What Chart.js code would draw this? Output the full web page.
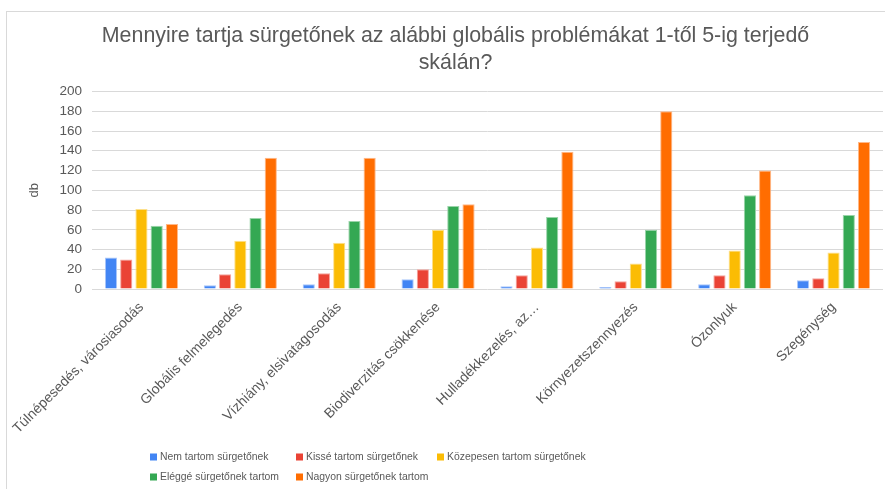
<!DOCTYPE html>
<html>
<head>
<meta charset="utf-8">
<script src="https://cdn.jsdelivr.net/npm/chart.js@4.4.1/dist/chart.umd.min.js"></script>
<style>
  html, body { margin: 0; padding: 0; background: #fff; }
  #wrap { width: 885px; height: 489px; }
</style>
</head>
<body>
<div id="wrap"><canvas id="chart"></canvas></div>
<script>
const TITLE = ['Mennyire tartja sürgetőnek az alábbi globális problémákat 1-től 5-ig terjedő', 'skálán?']
const Y_TITLE = 'db'
const CATEGORIES = [
  'Túlnépesedés, városiasodás',
  'Globális felmelegedés',
  'Vízhiány, elsivatagosodás',
  'Biodiverzitás csökkenése',
  'Hulladékkezelés, az…',
  'Környezetszennyezés',
  'Ózonlyuk',
  'Szegénység',
]
const SERIES = [
  'Nem tartom sürgetőnek',
  'Kissé tartom sürgetőnek',
  'Közepesen tartom sürgetőnek',
  'Eléggé sürgetőnek tartom',
  'Nagyon sürgetőnek tartom',
]
const nemTartom = [32, 4, 5, 10, 3, 2, 5, 9]
const kisse = [30, 15, 16, 20, 14, 8, 14, 11]
const kozepesen = [81, 49, 47, 60, 42, 26, 39, 37]
const elegge = [64, 72, 69, 84, 73, 60, 95, 75]
const nagyon = [66, 133, 133, 86, 139, 180, 120, 149]
const Y_MIN = 0
const Y_MAX = 200
const Y_STEP = 20

const VALUES = [nemTartom, kisse, kozepesen, elegge, nagyon]
const COLORS = ['#4285F4', '#EA4335', '#FBBC04', '#34A853', '#FF6D01']
const EDGES = ['#a9c6fa', '#f5a49d', '#fde08a', '#9ad4a9', '#ffb888']
const TEXT = '#595959'
const GRID = '#d9d9d9'

Chart.defaults.font.family = "'Liberation Sans', Arial, sans-serif"

// thin frame like the original export (only top/left edge visible)
const frame = {
  id: 'frame',
  beforeDraw(chart) {
    const ctx = chart.ctx
    ctx.save()
    ctx.strokeStyle = GRID
    ctx.lineWidth = 1
    ctx.strokeRect(6.5, 11.5, chart.width + 20, chart.height + 20)
    ctx.restore()
  }
}

// legend laid out in fixed columns, 3 per row
const gridLegend = {
  id: 'gridLegend',
  afterDraw(chart, args, opts) {
    const ctx = chart.ctx
    ctx.save()
    ctx.font = opts.font
    ctx.textBaseline = 'middle'
    ctx.textAlign = 'left'
    chart.data.datasets.forEach((ds, i) => {
      const x = opts.columns[i % opts.columns.length]
      const y = opts.rows[Math.floor(i / opts.columns.length)]
      ctx.fillStyle = ds.backgroundColor
      ctx.fillRect(x, y - opts.box / 2, opts.box, opts.box)
      ctx.fillStyle = opts.color
      ctx.fillText(ds.label, x + opts.box + 3, y)
    })
    ctx.restore()
  }
}

new Chart(document.getElementById('chart'), {
  type: 'bar',
  data: {
    labels: CATEGORIES,
    datasets: SERIES.map((label, i) => ({
      label,
      data: VALUES[i],
      backgroundColor: COLORS[i],
      borderColor: EDGES[i],
      borderWidth: 1,
      categoryPercentage: 0.77,
      barPercentage: 0.8,
    })),
  },
  options: {
    responsive: true,
    maintainAspectRatio: false,
    animation: false,
    layout: { padding: { left: 28, right: 2, top: 0, bottom: 50 } },
    plugins: {
      legend: { display: false },
      tooltip: { enabled: false },
      title: {
        display: true,
        text: TITLE,
        color: TEXT,
        font: { size: 21.4, weight: 'normal', lineHeight: 1.25 },
        padding: { top: 23, bottom: 15 },
      },
      gridLegend: {
        columns: [150, 296, 437],
        rows: [457, 477],
        box: 7,
        font: "10.4px 'Liberation Sans', Arial, sans-serif",
        color: TEXT,
      },
    },
    scales: {
      x: {
        grid: { display: false },
        border: { display: false },
        ticks: {
          color: TEXT,
          font: { size: 14 },
          maxRotation: 45,
          minRotation: 45,
          autoSkip: false,
          padding: 2,
        },
        // the first rotated label may hang out to the left, like in the original
        afterFit: (scale) => { scale.paddingLeft = 0 },
      },
      y: {
        min: Y_MIN,
        max: Y_MAX,
        grid: { color: GRID, drawTicks: false },
        border: { display: false },
        ticks: { stepSize: Y_STEP, color: TEXT, font: { size: 13.5 }, padding: 10 },
        title: {
          display: true,
          text: Y_TITLE,
          color: TEXT,
          font: { size: 13, lineHeight: 1 },
          padding: { top: 0, bottom: 8.5 },
        },
      },
    },
  },
  plugins: [frame, gridLegend],
})
</script>
</body>
</html>
